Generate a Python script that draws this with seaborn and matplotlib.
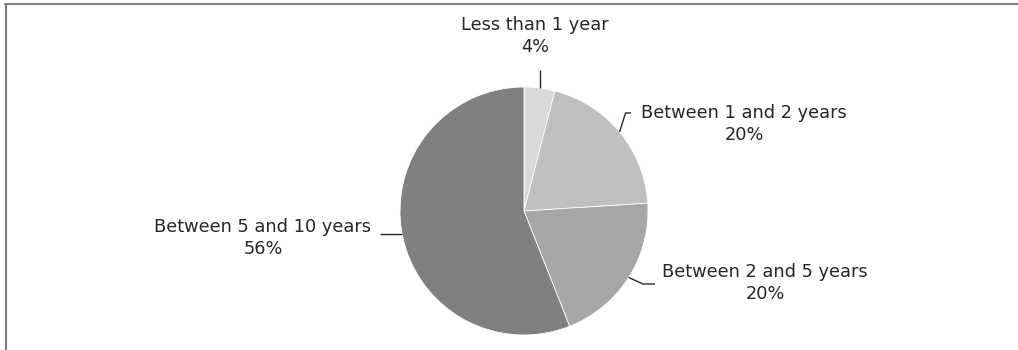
import matplotlib
matplotlib.use("Agg")
import matplotlib.pyplot as plt
from matplotlib.lines import Line2D
import numpy as np
import seaborn as sns

# Tenure distribution
categories = ["Less than 1 year", "Between 1 and 2 years",
              "Between 2 and 5 years", "Between 5 and 10 years"]
shares = [4, 20, 20, 56]
slice_colors = ["#d9d9d9", "#bfbfbf", "#a6a6a6", "#808080"]

sns.set_theme(style="white")
plt.rcParams["font.family"] = ["DejaVu Sans"]

W, H = 1018, 350
fig = plt.figure(figsize=(W / 100, H / 100), dpi=100)
ax = fig.add_axes([0, 0, 1, 1])

cx, cy, r = 524, H - 211, 124
palette = sns.color_palette(slice_colors)
wedges, _ = ax.pie(shares, colors=palette, startangle=90, counterclock=False,
                   center=(cx, cy), radius=r, frame=True,
                   wedgeprops=dict(edgecolor="white", linewidth=0.6))
ax.set_xlim(0, W)
ax.set_ylim(0, H)
ax.set_aspect("equal")
ax.axis("off")

# label layout: text centre (x, y from top), leader elbow and end (y from top)
label_layout = [
    dict(text=(535, 36), path=lambda p: [p, (p[0], H - 70)]),
    dict(text=(744, 124), path=lambda p: [p, (p[0] + 6, H - 113), (631, H - 113)]),
    dict(text=(765, 283), path=lambda p: [p, (643, H - 284), (655, H - 284)]),
    dict(text=(263, 238), path=lambda p: [p, (380, p[1])]),
]

txt_color = "#262626"
for w, cat, val, lay in zip(wedges, categories, shares, label_layout):
    mid = np.deg2rad((w.theta1 + w.theta2) / 2)
    rim = (cx + r * np.cos(mid), cy + r * np.sin(mid))
    pts = np.array(lay["path"](rim))
    ax.plot(pts[:, 0], pts[:, 1], color="#262626", linewidth=1.0,
            solid_capstyle="butt")
    tx, ty = lay["text"]
    ax.text(tx, H - ty, f"{cat}\n{val}%", ha="center", va="center",
            fontsize=12.8, color=txt_color, linespacing=1.25)

# outer frame (top and left edges)
frame_kw = dict(color="#7f7f7f", linewidth=1.5, transform=fig.transFigure)
fig.add_artist(Line2D([5 / W, 1], [1 - 3.5 / H, 1 - 3.5 / H], **frame_kw))
fig.add_artist(Line2D([5.5 / W, 5.5 / W], [0, 1 - 3.5 / H], **frame_kw))

fig.savefig("out.png", dpi=100, facecolor="white")
